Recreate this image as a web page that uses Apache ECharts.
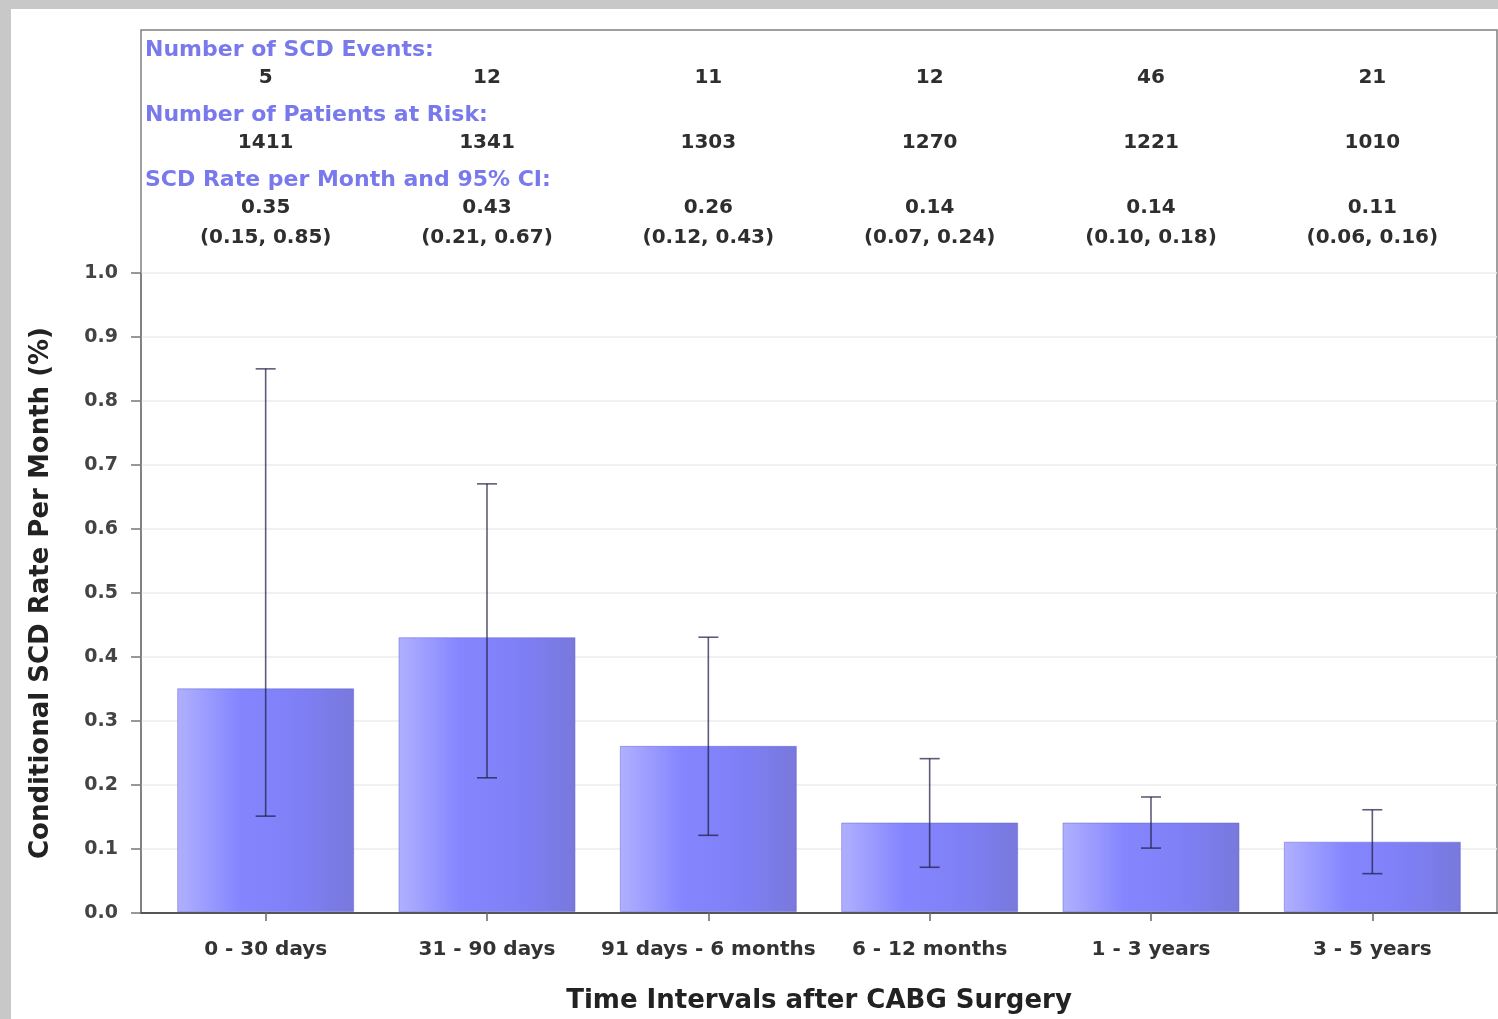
<!DOCTYPE html>
<html>
<head>
<meta charset="utf-8">
<script src="https://cdn.jsdelivr.net/npm/echarts@6/dist/echarts.min.js"></script>
<style>
html,body{margin:0;padding:0;background:#c8c8c8;}
#wrap{position:absolute;left:11px;top:9px;width:1487px;height:1010px;background:#fff;}
#chart{position:absolute;left:-11px;top:-9px;width:1498px;height:1019px;}
</style>
</head>
<body>
<div id="wrap"><div id="chart"></div></div>
<script>
const categories = ['0 - 30 days', '31 - 90 days', '91 days - 6 months', '6 - 12 months', '1 - 3 years', '3 - 5 years'];
const rates = [0.35, 0.43, 0.26, 0.14, 0.14, 0.11];
const ciLow = [0.15, 0.21, 0.12, 0.07, 0.10, 0.06];
const ciHigh = [0.85, 0.67, 0.43, 0.24, 0.18, 0.16];
const events = [5, 12, 11, 12, 46, 21];
const atRisk = [1411, 1341, 1303, 1270, 1221, 1010];
const yTicks = [0.0, 0.1, 0.2, 0.3, 0.4, 0.5, 0.6, 0.7, 0.8, 0.9, 1.0];
const headers = ['Number of SCD Events:', 'Number of Patients at Risk:', 'SCD Rate per Month and 95% CI:'];

const FONT = 'DejaVu Sans';
const chart = echarts.init(document.getElementById('chart'), null, {renderer: 'canvas'});

function topAxis(offset, fmt) {
  return {
    type: 'category', gridIndex: 0, position: 'top', offset: offset,
    data: categories,
    axisLine: {show: false}, axisTick: {show: false}, splitLine: {show: false},
    axisLabel: {
      interval: 0, margin: 0, verticalAlign: 'middle',
      fontFamily: FONT, fontSize: 20, fontWeight: 'bold', color: '#2e2e2e',
      formatter: function (v, i) { return fmt(i); }
    }
  };
}

const barGrad = new echarts.graphic.LinearGradient(0, 0, 1, 0, [
  {offset: 0, color: '#b0b0ff'},
  {offset: 0.35, color: '#8585ff'},
  {offset: 0.7, color: '#7f7ff5'},
  {offset: 1, color: '#7878dc'}
]);

const option = {
  animation: false,
  backgroundColor: 'transparent',
  title: headers.map(function (h, k) {
    return {
      text: h, left: 140, top: [34, 99, 164][k],
      textStyle: {fontFamily: FONT, fontSize: 22, fontWeight: 'bold', color: '#7979ee'}
    };
  }),
  grid: [
    {left: 155, right: 15, top: 273, bottom: 106},
    {left: 141, right: 1, top: 273, bottom: 106},
    {left: 141, right: 1, top: 30, bottom: 106, show: true, borderColor: '#808080', borderWidth: 1.5, backgroundColor: 'transparent'}
  ],
  xAxis: [
    {
      type: 'category', gridIndex: 0, data: categories,
      axisLine: {show: false},
      axisTick: {show: true, alignWithLabel: true, length: 9, lineStyle: {color: '#666', width: 1.5}},
      axisLabel: {interval: 0, margin: 28, fontFamily: FONT, fontSize: 20, fontWeight: 'bold', color: '#333'},
      name: 'Time Intervals after CABG Surgery', nameLocation: 'middle', nameGap: 76,
      nameTextStyle: {fontFamily: FONT, fontSize: 26, fontWeight: 'bold', color: '#222'}
    },
    topAxis(273 - 78, function (i) { return String(events[i]); }),
    topAxis(273 - 143, function (i) { return String(atRisk[i]); }),
    topAxis(273 - 208, function (i) { return rates[i].toFixed(2); }),
    topAxis(273 - 238, function (i) { return '(' + ciLow[i].toFixed(2) + ', ' + ciHigh[i].toFixed(2) + ')'; }),
    {
      type: 'value', gridIndex: 1, min: 0, max: 1,
      axisLine: {show: true, lineStyle: {color: '#555', width: 2}},
      axisTick: {show: false}, axisLabel: {show: false}, splitLine: {show: false}
    },
    {type: 'value', gridIndex: 2, show: false}
  ],
  yAxis: [
    {type: 'value', gridIndex: 0, min: 0, max: 1, show: false},
    {
      type: 'value', gridIndex: 1, min: 0, max: 1, interval: 0.1,
      axisLine: {show: true, lineStyle: {color: '#777', width: 1.5}},
      axisTick: {show: true, length: 10, lineStyle: {color: '#777', width: 1.5}},
      axisLabel: {margin: 23, fontFamily: FONT, fontSize: 19, fontWeight: 'bold', color: '#444',
        formatter: function (v) { return v.toFixed(1); }},
      splitLine: {show: true, lineStyle: {color: '#ececec', width: 1.5}},
      name: 'Conditional SCD Rate Per Month (%)', nameLocation: 'middle', nameGap: 87, nameRotate: 90,
      nameTextStyle: {fontFamily: FONT, fontSize: 26, fontWeight: 'bold', color: '#222'}
    },
    {type: 'value', gridIndex: 2, show: false}
  ],
  series: [
    {
      type: 'bar', xAxisIndex: 0, yAxisIndex: 0,
      data: rates, barWidth: 177,
      itemStyle: {color: barGrad, borderColor: 'rgba(100,100,210,0.5)', borderWidth: 1},
      z: 2
    },
    {
      type: 'custom', xAxisIndex: 0, yAxisIndex: 0,
      data: categories.map(function (c, i) { return [i, ciLow[i], ciHigh[i]]; }),
      renderItem: function (params, api) {
        const lo = api.coord([api.value(0), api.value(1)]);
        const hi = api.coord([api.value(0), api.value(2)]);
        const half = 10;
        const style = {stroke: 'rgba(30,30,70,0.72)', lineWidth: 1.6};
        return {
          type: 'group',
          children: [
            {type: 'line', shape: {x1: lo[0], y1: lo[1], x2: hi[0], y2: hi[1]}, style: style},
            {type: 'line', shape: {x1: lo[0] - half, y1: lo[1], x2: lo[0] + half, y2: lo[1]}, style: style},
            {type: 'line', shape: {x1: hi[0] - half, y1: hi[1], x2: hi[0] + half, y2: hi[1]}, style: style}
          ]
        };
      },
      z: 5
    }
  ]
};
chart.setOption(option);
</script>
</body>
</html>
